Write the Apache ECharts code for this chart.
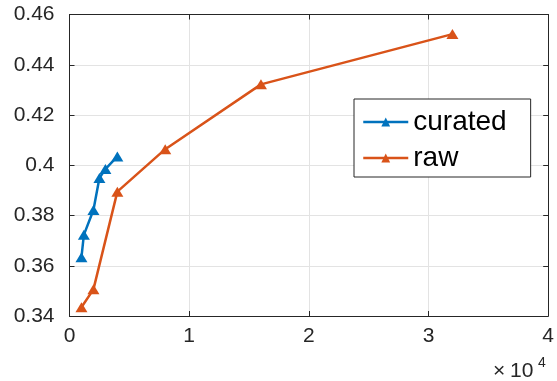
<!DOCTYPE html>
<html>
<head>
<meta charset="utf-8">
<script src="https://cdn.jsdelivr.net/npm/echarts@6/dist/echarts.min.js"></script>
<style>
  html, body { margin: 0; padding: 0; background: #fff; }
  #chart { width: 557px; height: 381px; }
</style>
</head>
<body>
<div id="chart"></div>
<script>
// Dataset sizes and scores for the two training sets
const curatedSizes = [1000, 1200, 2000, 2500, 3000, 4000];
const curatedScores = [0.3634, 0.3723, 0.3822, 0.3949, 0.3985, 0.4035];
const rawSizes = [1000, 2000, 4000, 8000, 16000, 32000];
const rawScores = [0.3435, 0.3506, 0.3895, 0.4064, 0.4322, 0.4522];
const seriesNames = ['curated', 'raw'];
const xTickScale = 10000;   // x tick labels are shown in units of 10^4

const FONT = '"Liberation Sans", Arial, Helvetica, sans-serif';
const AXIS = '#262626';
const GRID = '#e3e3e3';
const BLUE = '#0072BD';
const ORANGE = '#D95319';

const pairs = (xs, ys) => xs.map((x, i) => [x, ys[i]]);

const chart = echarts.init(document.getElementById('chart'), null, { renderer: 'canvas' });

const axisLine = { show: true, onZero: false, lineStyle: { color: AXIS, width: 1 } };
const tick = { show: true, inside: true, length: 5, lineStyle: { color: AXIS, width: 1 } };

chart.setOption({
  animation: false,
  backgroundColor: '#fff',
  grid: { left: 69.5, right: 7.5, top: 14.5, bottom: 65, containLabel: false },
  xAxis: [
    {
      type: 'value', min: 0, max: 40000, interval: 10000, position: 'bottom',
      axisLine, axisTick: tick,
      splitLine: { show: true, lineStyle: { color: GRID, width: 1 } },
      axisLabel: {
        margin: 10, color: AXIS, fontFamily: FONT, fontSize: 21,
        formatter: v => String(v / xTickScale)
      }
    },
    {
      type: 'value', min: 0, max: 40000, interval: 10000, position: 'top',
      axisLine, axisTick: tick, splitLine: { show: false }, axisLabel: { show: false }
    }
  ],
  yAxis: [
    {
      type: 'value', min: 0.34, max: 0.46, interval: 0.02, position: 'left',
      axisLine, axisTick: tick,
      splitLine: { show: true, lineStyle: { color: GRID, width: 1 } },
      axisLabel: {
        margin: 15, color: AXIS, fontFamily: FONT, fontSize: 21,
        formatter: v => String(parseFloat(v.toFixed(2)))
      }
    },
    {
      type: 'value', min: 0.34, max: 0.46, interval: 0.02, position: 'right',
      axisLine, axisTick: tick, splitLine: { show: false }, axisLabel: { show: false }
    }
  ],
  legend: {
    orient: 'vertical',
    left: 354, top: 99,
    padding: [8, 24, 4, 8],
    itemGap: 6,
    itemWidth: 45, itemHeight: 11,
    backgroundColor: '#fff',
    borderColor: AXIS, borderWidth: 1, borderRadius: 0,
    lineStyle: { width: 2.5 },
    textStyle: { fontFamily: FONT, fontSize: 28, lineHeight: 30, color: '#000' },
    data: seriesNames
  },
  // exponent note for the x axis: ×10^4
  graphic: [
    {
      type: 'text', left: 493, top: 361,
      style: { text: '×', font: '21px ' + FONT, fill: AXIS }
    },
    {
      type: 'text', left: 510, top: 361,
      style: { text: '10', font: '21px ' + FONT, fill: AXIS }
    },
    {
      type: 'text', left: 538, top: 356,
      style: { text: '4', font: '14px ' + FONT, fill: AXIS }
    }
  ],
  series: [
    {
      name: seriesNames[0], type: 'line', xAxisIndex: 0, yAxisIndex: 0,
      data: pairs(curatedSizes, curatedScores),
      symbol: 'triangle', symbolSize: [12, 10], showSymbol: true,
      lineStyle: { color: BLUE, width: 2.5 },
      itemStyle: { color: BLUE }
    },
    {
      name: seriesNames[1], type: 'line', xAxisIndex: 0, yAxisIndex: 0,
      data: pairs(rawSizes, rawScores),
      symbol: 'triangle', symbolSize: [12, 10], showSymbol: true,
      lineStyle: { color: ORANGE, width: 2.5 },
      itemStyle: { color: ORANGE }
    }
  ]
});
</script>
</body>
</html>
